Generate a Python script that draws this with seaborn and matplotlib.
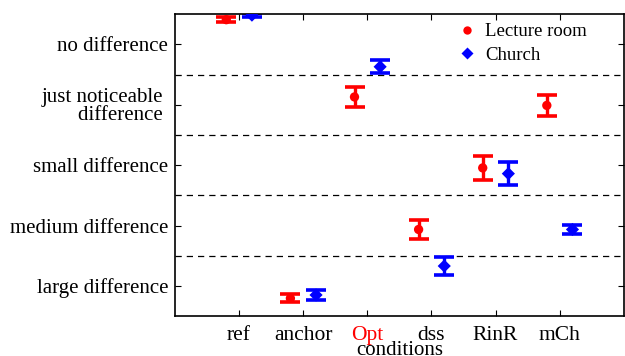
import matplotlib
matplotlib.use("Agg")
import matplotlib.pyplot as plt
import seaborn as sns
import numpy as np
import pandas as pd

conditions = ["ref", "anchor", "Opt", "dss", "RinR", "mCh"]
lecture_mean = [98.2, 5.9, 72.6, 28.7, 49.1, 69.8]
lecture_err = [0.9, 1.3, 3.3, 3.1, 3.9, 3.4]
church_mean = [99.7, 7.0, 82.6, 16.6, 47.2, 28.7]
church_err = [0.7, 1.8, 2.1, 3.0, 3.7, 1.5]

grade_labels = ["large difference", "medium difference", "small difference",
                "just noticeable \ndifference ", "no difference"]
grade_ticks = [10, 30, 50, 70, 90]
band_edges = [20, 40, 60, 80]

sns.set_style("white")
plt.rcParams["font.family"] = ["Liberation Serif", "DejaVu Serif"]
plt.rcParams["text.color"] = "black"
plt.rcParams["axes.labelcolor"] = "black"
plt.rcParams["xtick.color"] = "black"
plt.rcParams["ytick.color"] = "black"

x = np.arange(1, len(conditions) + 1)
df = pd.concat([
    pd.DataFrame({"x": x - 0.2, "score": lecture_mean, "err": lecture_err, "room": "Lecture room"}),
    pd.DataFrame({"x": x + 0.2, "score": church_mean, "err": church_err, "room": "Church"}),
])

fig, ax = plt.subplots(figsize=(6.25, 3.56), dpi=100)
fig.subplots_adjust(left=0.28, right=0.998, top=0.96, bottom=0.112)

colors = {"Lecture room": "#ff0000", "Church": "#0000ff"}
markers = {"Lecture room": "o", "Church": "D"}

for y in band_edges:
    ax.axhline(y, color="black", ls=(0, (5, 4)), lw=0.9, zorder=1)

for room, sub in df.groupby("room", sort=False):
    ax.errorbar(sub["x"], sub["score"], yerr=sub["err"], fmt="none",
                ecolor=colors[room], elinewidth=2.4, capsize=7, capthick=2.6, zorder=2)

sns.scatterplot(data=df, x="x", y="score", hue="room", style="room",
                palette=colors, markers=markers, s=45, edgecolor="none",
                ax=ax, zorder=3)

ax.set_xlim(0, 7)
ax.set_ylim(0, 100)
ax.set_xticks(x)
ax.set_xticklabels(conditions, fontsize=15.5)
ax.get_xticklabels()[2].set_color("red")
ax.set_yticks(grade_ticks)
ax.set_yticklabels(grade_labels, fontsize=15, linespacing=0.9)
ax.set_xlabel("conditions", fontsize=15, labelpad=-3)
ax.set_ylabel("")

ax.tick_params(direction="in", length=4, width=0.8, top=True, right=True,
               bottom=True, left=True, pad=5)
ax.tick_params(axis="x", pad=7)
for s in ax.spines.values():
    s.set_visible(True)
    s.set_linewidth(1.2)
    s.set_color("black")

leg = ax.legend(loc="upper right", frameon=False, fontsize=13.5,
                handlelength=1.2, handletextpad=0.4, borderaxespad=0.0,
                labelspacing=0.35, bbox_to_anchor=(0.935, 0.995))
for h in leg.legend_handles:
    h.set_markersize(6)

fig.savefig("out.png", dpi=100)
